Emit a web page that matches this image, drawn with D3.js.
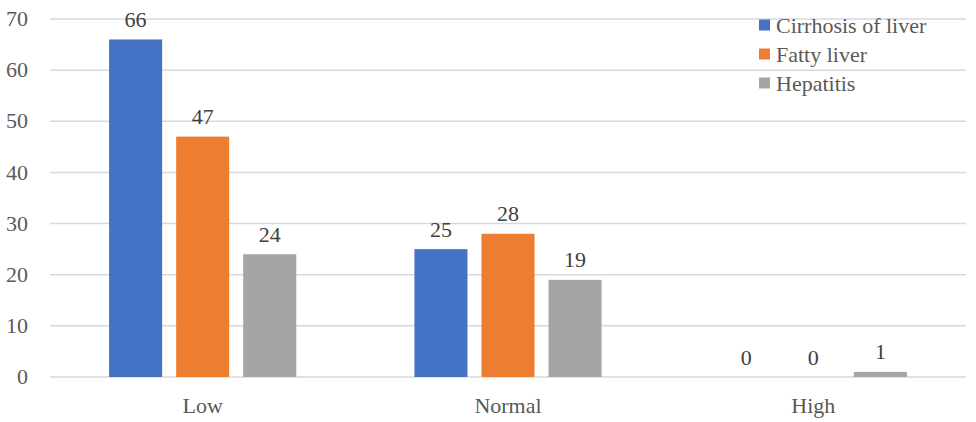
<!DOCTYPE html>
<html>
<head>
<meta charset="utf-8">
<script src="https://cdn.jsdelivr.net/npm/d3@7"></script>
<style>
  body { margin: 0; background: #fff; }
  #wrap { position: relative; width: 976px; height: 422px; }
  #chart { position: absolute; left: 0; top: 0; }
  .lbl {
    position: absolute;
    font-family: "Liberation Serif", "Times New Roman", serif;
    font-size: 22px;
    line-height: 22px;
    white-space: nowrap;
  }
</style>
</head>
<body>
<div id="wrap">
<svg id="chart" width="976" height="422"></svg>
</div>
<script>
const categories = ["Low", "Normal", "High"];
const seriesNames = ["Cirrhosis of liver", "Fatty liver", "Hepatitis"];
const cirrhosis = [66, 25, 0];
const fatty = [47, 28, 0];
const hepatitis = [24, 19, 1];
const yTicks = [0, 10, 20, 30, 40, 50, 60, 70];
const colors = ["#4472C4", "#ED7D31", "#A5A5A5"];

const seriesValues = [cirrhosis, fatty, hepatitis];

const width = 976, height = 422;
const margin = {top: 19, right: 10, bottom: 45, left: 50};
// distance from top of a 22px label box to its baseline
const BASE = 18.4;

const svg = d3.select("#chart");
const wrap = d3.select("#wrap");

const x = d3.scaleBand()
  .domain(categories)
  .range([margin.left, width - margin.right])
  .padding(0);

const groupWidth = x.bandwidth() * 0.613;
const xInner = d3.scaleBand()
  .domain(seriesNames)
  .range([0, groupWidth])
  .paddingInner(0.209);

const y = d3.scaleLinear()
  .domain([0, 70])
  .range([height - margin.bottom, margin.top]);

// places a text label with its baseline at by; align = start|middle|end
function label(sel, fx, fy, align, color) {
  const shift = align === "end" ? "-100%" : (align === "middle" ? "-50%" : "0");
  return sel.enter()
    .append("div")
    .classed("lbl", true)
    .style("left", (d, i) => fx(d, i) + "px")
    .style("top", (d, i) => (fy(d, i) - BASE) + "px")
    .style("transform", "translateX(" + shift + ")")
    .style("color", color);
}

// gridlines
svg.append("g")
  .selectAll("line")
  .data(yTicks)
  .enter()
  .append("line")
  .attr("x1", margin.left)
  .attr("x2", width - margin.right)
  .attr("y1", (d) => y(d))
  .attr("y2", (d) => y(d))
  .attr("stroke", "#D9D9D9")
  .attr("stroke-width", 1.5);

// y labels
label(wrap.selectAll(".ytick").data(yTicks), () => 28, (d) => y(d) + 7.5, "end", "#595959")
  .classed("ytick", true)
  .text((d) => d);

// bars
const rows = [];
categories.forEach((cat, ci) => {
  seriesNames.forEach((name, si) => {
    rows.push({cat: cat, name: name, value: seriesValues[si][ci], si: si});
  });
});

const groupOffset = (x.bandwidth() - groupWidth) / 2;
const barX = (d) => x(d.cat) + groupOffset + xInner(d.name);

svg.append("g")
  .selectAll("rect")
  .data(rows)
  .enter()
  .append("rect")
  .attr("x", barX)
  .attr("y", (d) => y(d.value))
  .attr("width", xInner.bandwidth())
  .attr("height", (d) => y(0) - y(d.value))
  .attr("fill", (d) => colors[d.si]);

// value labels
label(wrap.selectAll(".val").data(rows),
    (d) => barX(d) + xInner.bandwidth() / 2, (d) => y(d.value) - 12, "middle", "#404040")
  .classed("val", true)
  .text((d) => d.value);

// category labels
label(wrap.selectAll(".cat").data(categories),
    (d) => x(d) + x.bandwidth() / 2, () => 413, "middle", "#595959")
  .classed("cat", true)
  .text((d) => d);

// legend
const legendX = 759, legendY = 25, legendStep = 29;

svg.append("g")
  .selectAll("rect")
  .data(seriesNames)
  .enter()
  .append("rect")
  .attr("x", legendX)
  .attr("y", (d, i) => legendY + i * legendStep - 5.5)
  .attr("width", 11)
  .attr("height", 11)
  .attr("fill", (d, i) => colors[i]);

label(wrap.selectAll(".leg").data(seriesNames),
    () => legendX + 17, (d, i) => legendY + i * legendStep + 8, "start", "#595959")
  .classed("leg", true)
  .text((d) => d);
</script>
</body>
</html>
